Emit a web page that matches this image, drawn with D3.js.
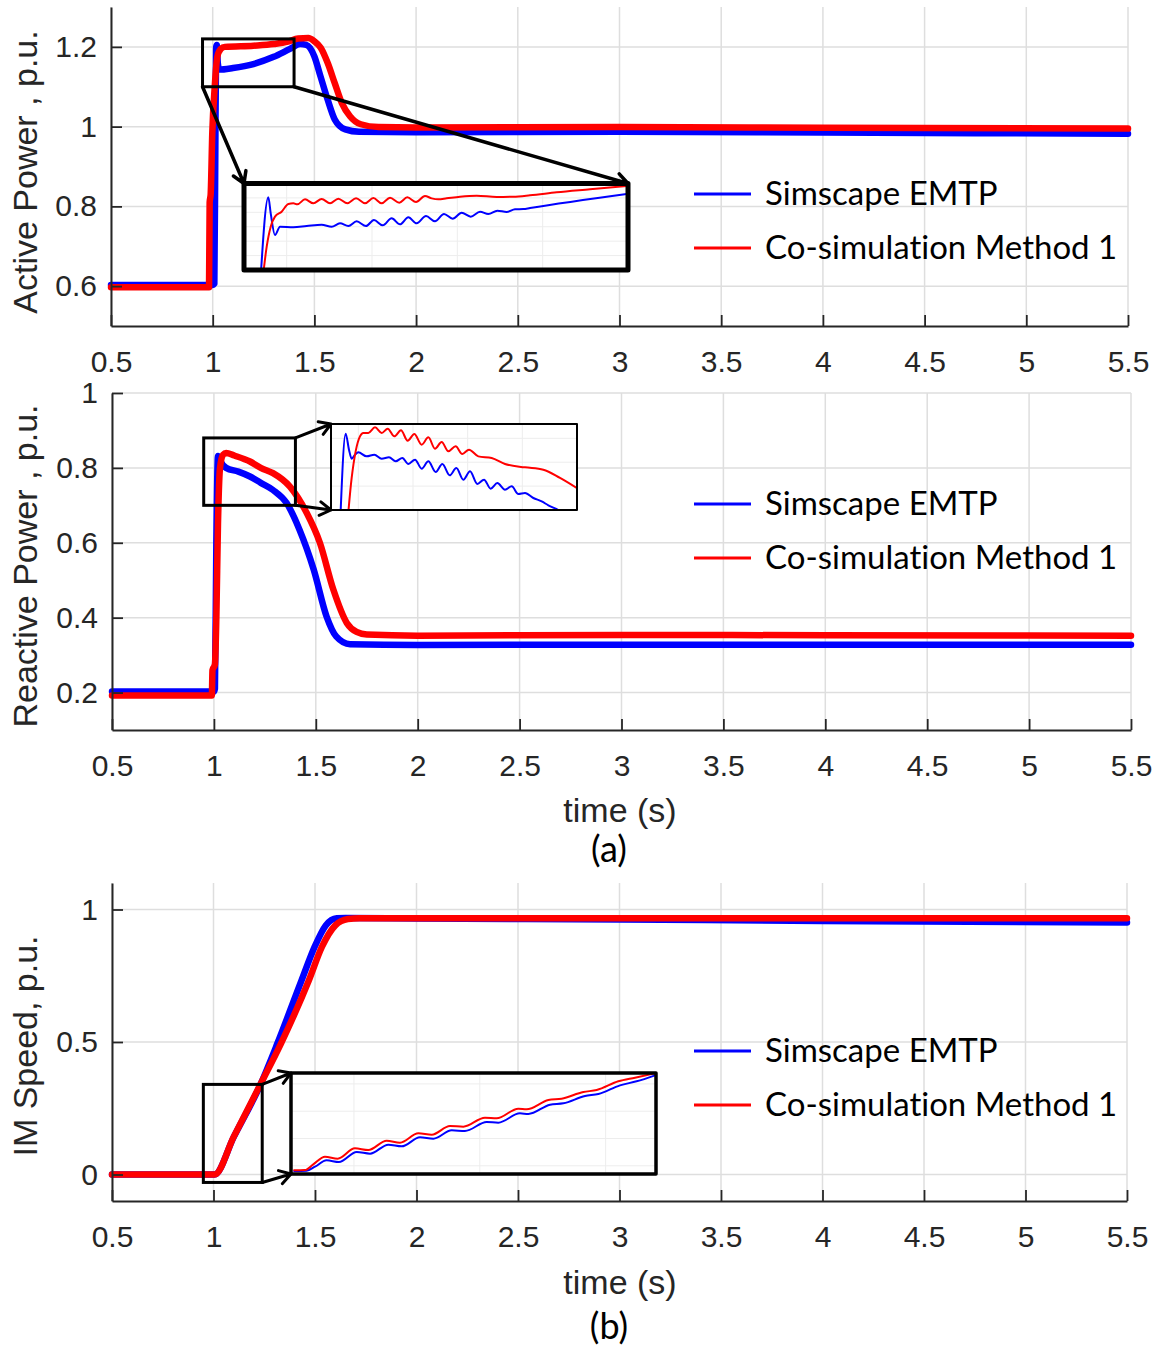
<!DOCTYPE html>
<html>
<head>
<meta charset="utf-8">
<script src="https://cdn.jsdelivr.net/npm/d3@7"></script>
<style>
  body { margin: 0; background: #fff; }
  svg text { font-family: "Liberation Sans", Arial, sans-serif; }
  svg text.calib { font-family: Lato, "Open Sans", sans-serif; font-variant-ligatures: none; }
</style>
</head>
<body>
<svg id="fig" width="1163" height="1348"></svg>
<script>
// ---------------- data ----------------
const timeTicks = [0.5, 1, 1.5, 2, 2.5, 3, 3.5, 4, 4.5, 5, 5.5];
const activeTicks = [0.6, 0.8, 1, 1.2];
const reactiveTicks = [0.2, 0.4, 0.6, 0.8, 1];
const speedTicks = [0, 0.5, 1];

const seriesNames = ["Simscape EMTP", "Co-simulation Method 1"];
const seriesColors = ["#0000ff", "#ff0000"];

// active power [time s, p.u.]
const activeEmtp = [
  [0.5, 0.603], [1.0, 0.603], [1.008, 0.606], [1.013, 0.95], [1.017, 1.2], [1.02, 1.205],
  [1.025, 1.16], [1.032, 1.143], [1.1, 1.147], [1.2, 1.157], [1.3, 1.175], [1.38, 1.195],
  [1.43, 1.207], [1.46, 1.205], [1.5, 1.176], [1.53, 1.126], [1.565, 1.068], [1.6, 1.018],
  [1.652, 0.993], [1.72, 0.987], [2.0, 0.986], [3.0, 0.987], [4.0, 0.985], [5.5, 0.982]
];
const activeCosim = [
  [0.5, 0.597], [0.982, 0.597], [0.985, 0.81], [0.99, 0.83], [0.998, 0.985], [1.01, 1.1],
  [1.023, 1.176], [1.04, 1.195], [1.06, 1.2], [1.2, 1.203], [1.3, 1.207], [1.37, 1.213],
  [1.42, 1.221], [1.47, 1.222], [1.5, 1.214], [1.531, 1.198], [1.566, 1.159], [1.6, 1.109],
  [1.635, 1.059], [1.675, 1.026], [1.728, 1.006], [1.815, 0.999], [2.0, 0.998],
  [3.0, 0.999], [4.0, 0.997], [5.5, 0.995]
];

// reactive power [time s, p.u.]
const reactiveEmtp = [
  [0.5, 0.203], [1.0, 0.203], [1.005, 0.21], [1.012, 0.6], [1.02, 0.832], [1.03, 0.82],
  [1.06, 0.80], [1.12, 0.79], [1.177, 0.777], [1.23, 0.76], [1.29, 0.741], [1.357, 0.706],
  [1.42, 0.635], [1.49, 0.528], [1.553, 0.403], [1.6, 0.35], [1.668, 0.329], [2.0, 0.327],
  [3.0, 0.328], [4.0, 0.328], [5.5, 0.328]
];
const reactiveCosim = [
  [0.5, 0.192], [0.99, 0.192], [0.993, 0.26], [1.005, 0.275], [1.012, 0.4], [1.02, 0.65],
  [1.03, 0.8], [1.045, 0.835], [1.06, 0.84], [1.1, 0.833], [1.177, 0.817], [1.23, 0.80],
  [1.29, 0.786], [1.373, 0.75], [1.455, 0.68], [1.52, 0.60], [1.586, 0.475], [1.652, 0.386],
  [1.7, 0.362], [1.75, 0.355], [2.0, 0.352], [3.0, 0.354], [4.0, 0.353], [5.5, 0.352]
];

// induction machine speed [time s, p.u.]
const speedEmtp = [
  [0.5, 0], [1.005, 0], [1.1, 0.142], [1.234, 0.344], [1.316, 0.497], [1.434, 0.733],
  [1.498, 0.859], [1.553, 0.94], [1.607, 0.967], [1.65, 0.968], [2.0, 0.966], [3.0, 0.962],
  [4.0, 0.957], [5.5, 0.951]
];
const speedCosim = [
  [0.5, 0], [1.005, 0], [1.1, 0.143], [1.234, 0.344], [1.334, 0.497], [1.47, 0.733],
  [1.534, 0.859], [1.6, 0.94], [1.662, 0.964], [1.72, 0.967], [2.0, 0.967], [3.0, 0.967],
  [4.0, 0.967], [5.5, 0.967]
];

// zoomed windows
const activeZoomT = [0.95, 1.40];
const activeZoomV = [1.10, 1.22];
const activeZoomEmtp = [
  [0.969, 1.08], [0.9785, 1.2008], [0.9813, 1.1786], [0.9863, 1.1486], [0.9922, 1.1601],
  [1.0078, 1.1592], [1.0234, 1.161], [1.041, 1.1629], [1.0527, 1.1601], [1.0625, 1.1647],
  [1.0723, 1.161], [1.082, 1.1675], [1.093, 1.161], [1.1023, 1.1694], [1.1125, 1.162],
  [1.123, 1.1717], [1.1328, 1.1634], [1.1426, 1.1731], [1.1523, 1.1647], [1.1633, 1.1749],
  [1.1738, 1.1675], [1.1844, 1.1777], [1.1945, 1.1712], [1.2051, 1.1795], [1.2156, 1.174],
  [1.2266, 1.1809], [1.2363, 1.1777], [1.2469, 1.1823], [1.2578, 1.1805], [1.2676, 1.1842],
  [1.2773, 1.1845], [1.2852, 1.186], [1.3984, 1.2054]
];
const activeZoomCosim = [
  [0.9712, 1.08], [0.9766, 1.1324], [0.9813, 1.1601], [0.9863, 1.174], [0.9941, 1.1809],
  [1.002, 1.1916], [1.0078, 1.1925], [1.0125, 1.1911], [1.0215, 1.198], [1.0313, 1.1925],
  [1.041, 1.1985], [1.0508, 1.1925], [1.0605, 1.199], [1.0711, 1.1925], [1.0813, 1.1994],
  [1.0918, 1.1925], [1.1016, 1.1999], [1.1113, 1.1925], [1.1211, 1.2003], [1.132, 1.1934],
  [1.1414, 1.2008], [1.1516, 1.1943], [1.1621, 1.2027], [1.1699, 1.1994], [1.1777, 1.198],
  [1.1875, 1.1994], [1.2031, 1.2017], [1.2227, 1.2031], [1.2461, 1.2013], [1.2656, 1.2017],
  [1.2852, 1.2036], [1.3164, 1.2077], [1.3555, 1.2119], [1.3984, 1.2165]
];

const reactiveZoomT = [0.95, 1.40];
const reactiveZoomV = [0.70, 0.88];
const reactiveZoomEmtp = [
  [0.967, 0.68], [0.9768, 0.8598], [0.9829, 0.8263], [0.9878, 0.8074], [0.9939, 0.8158],
  [1.0, 0.8207], [1.0152, 0.8123], [1.0293, 0.8158], [1.0427, 0.8074], [1.0561, 0.8102],
  [1.0683, 0.8019], [1.0805, 0.8088], [1.0915, 0.7963], [1.1037, 0.8053], [1.1159, 0.7865],
  [1.1281, 0.8019], [1.1415, 0.7795], [1.1537, 0.7963], [1.1671, 0.7726], [1.1793, 0.7879],
  [1.1921, 0.7635], [1.2043, 0.7809], [1.2177, 0.7544], [1.2299, 0.7635], [1.2421, 0.7447],
  [1.2543, 0.7565], [1.2683, 0.7426], [1.2805, 0.7495], [1.2927, 0.7335], [1.3049, 0.7356],
  [1.3201, 0.7251], [1.3354, 0.7181], [1.3476, 0.7098], [1.3659, 0.70], [1.38, 0.69]
];
const reactiveZoomCosim = [
  [0.9805, 0.68], [0.9878, 0.767], [0.9951, 0.8228], [1.003, 0.8542], [1.0091, 0.8612],
  [1.0183, 0.8612], [1.0305, 0.873], [1.0427, 0.8612], [1.0537, 0.8703], [1.0659, 0.8542],
  [1.078, 0.8668], [1.0902, 0.8451], [1.1024, 0.8591], [1.1159, 0.8368], [1.1281, 0.8521],
  [1.1402, 0.8284], [1.1524, 0.8423], [1.1646, 0.8228], [1.178, 0.8333], [1.1902, 0.8172],
  [1.2024, 0.8263], [1.2195, 0.8123], [1.2439, 0.8088], [1.2683, 0.7963], [1.3049, 0.7893],
  [1.3384, 0.7844], [1.3689, 0.767], [1.3994, 0.746]
];

const speedZoomT = [0.95, 1.24];
const speedZoomV = [-0.03, 0.34];
const speedZoomEmtp = [
  [0.9519, -0.019], [0.9624, -0.0178], [0.9691, -0.0031], [0.9783, 0.0201], [0.9881, 0.014],
  [1.0022, 0.0506], [1.0128, 0.0445], [1.0273, 0.0775], [1.0379, 0.0714], [1.0525, 0.1043],
  [1.0631, 0.0994], [1.0777, 0.13], [1.0882, 0.1275], [1.1055, 0.1605], [1.1147, 0.1581],
  [1.1319, 0.1922], [1.1386, 0.1898], [1.1558, 0.224], [1.1664, 0.2289], [1.1836, 0.2557],
  [1.1942, 0.2631], [1.2114, 0.2948], [1.2246, 0.3095], [1.2392, 0.3315]
];
const speedZoomCosim = [
  [0.9519, -0.0166], [0.9611, -0.0153], [0.9677, 0.0054], [0.977, 0.0335], [0.9871, 0.0262],
  [1.0008, 0.064], [1.0114, 0.0579], [1.026, 0.0921], [1.0366, 0.0848], [1.0512, 0.119],
  [1.0618, 0.1141], [1.0763, 0.1458], [1.0869, 0.1434], [1.1041, 0.1764], [1.1134, 0.1739],
  [1.1306, 0.2093], [1.1372, 0.2069], [1.1545, 0.2411], [1.165, 0.246], [1.1823, 0.2704],
  [1.1929, 0.2777], [1.2101, 0.3095], [1.2233, 0.3229], [1.2392, 0.3388]
];

// ---------------- layout ----------------
const panels = [
  {
    left: 111, right: 1128, top: 7, bottom: 326,
    yDomain: [0.5, 1.3], yTicks: activeTicks,
    series: [activeEmtp, activeCosim],
    yLabel: "Active Power , p.u.", yLabelY: 172,
    legendY: 194,
    inset: {
      box: [244, 183.5, 628, 270], boxWidth: 5, srcWidth: 3, arrowWidth: 3.5,
      t: activeZoomT, v: activeZoomV, series: [activeZoomEmtp, activeZoomCosim],
      arrows: [["bl", "tl"], ["br", "tr"]]
    }
  },
  {
    left: 112, right: 1131, top: 393, bottom: 730,
    yDomain: [0.1, 1.0], yTicks: reactiveTicks,
    series: [reactiveEmtp, reactiveCosim],
    yLabel: "Reactive Power , p.u.", yLabelY: 566,
    legendY: 504,
    xLabel: "time (s)", xLabelY: 822, caption: "(a)", captionY: 862,
    inset: {
      box: [331, 424, 577, 510], boxWidth: 2, srcWidth: 3, arrowWidth: 3,
      t: reactiveZoomT, v: reactiveZoomV, series: [reactiveZoomEmtp, reactiveZoomCosim],
      arrows: [["tr", "tl"], ["br", "bl"]]
    }
  },
  {
    left: 112, right: 1127, top: 883, bottom: 1201,
    yDomain: [-0.1, 1.1], yTicks: speedTicks,
    series: [speedEmtp, speedCosim],
    yLabel: "IM Speed, p.u.", yLabelY: 1046,
    legendY: 1051,
    xLabel: "time (s)", xLabelY: 1294, caption: "(b)", captionY: 1339,
    inset: {
      box: [291, 1073, 656, 1174], boxWidth: 3.5, srcWidth: 3, arrowWidth: 3,
      t: speedZoomT, v: speedZoomV, series: [speedZoomEmtp, speedZoomCosim],
      arrows: [["tr", "tl"], ["br", "bl"]]
    }
  }
];

const svg = d3.select("#fig");
const axisColor = "#262626";
const gridColor = "#dedede";
const fmt = d3.format("~g");

function corner(r, c) {
  return [c[1] === "l" ? r[0] : r[2], c[0] === "t" ? r[1] : r[3]];
}

function arrow(g, from, to, w) {
  const a = Math.atan2(to[1] - from[1], to[0] - from[0]);
  const L = 13, s = 0.55;
  const h1 = [to[0] - L * Math.cos(a - s), to[1] - L * Math.sin(a - s)];
  const h2 = [to[0] - L * Math.cos(a + s), to[1] - L * Math.sin(a + s)];
  g.append("path")
    .attr("d", `M${from}L${to}M${h1}L${to}L${h2}`)
    .attr("fill", "none").attr("stroke", "#000").attr("stroke-width", w)
    .attr("stroke-linecap", "round").attr("stroke-linejoin", "round");
}

panels.forEach((p, pi) => {
  const x = d3.scaleLinear().domain([0.5, 5.5]).range([p.left, p.right]);
  const y = d3.scaleLinear().domain(p.yDomain).range([p.bottom, p.top]);
  const g = svg.append("g");

  // grid
  g.append("g").selectAll("line").data(timeTicks).join("line")
    .attr("x1", d => x(d)).attr("x2", d => x(d))
    .attr("y1", p.top).attr("y2", p.bottom)
    .attr("stroke", gridColor).attr("stroke-width", 1.5);
  g.append("g").selectAll("line").data(p.yTicks).join("line")
    .attr("x1", p.left).attr("x2", p.right)
    .attr("y1", d => y(d)).attr("y2", d => y(d))
    .attr("stroke", gridColor).attr("stroke-width", 1.5);

  // legend
  const lg = g.append("g");
  seriesNames.forEach((name, i) => {
    const yy = p.legendY + i * 54;
    lg.append("line").attr("x1", 694).attr("x2", 751).attr("y1", yy).attr("y2", yy)
      .attr("stroke", seriesColors[i]).attr("stroke-width", 3);
    lg.append("text").attr("class", "calib").attr("x", 765).attr("y", yy + 11)
      .attr("font-size", 33).attr("fill", "#000").text(name);
  });

  // traces
  const line = d3.line().x(d => x(d[0])).y(d => y(d[1])).curve(d3.curveMonotoneX);
  p.series.forEach((s, i) => {
    g.append("path").datum(s).attr("d", line)
      .attr("fill", "none").attr("stroke", seriesColors[i]).attr("stroke-width", 6.5)
      .attr("stroke-linejoin", "round").attr("stroke-linecap", "round");
  });

  // axes
  const ax = g.append("g").attr("transform", `translate(0,${p.bottom})`)
    .call(d3.axisBottom(x).tickValues(timeTicks).tickFormat(fmt).tickSize(-11).tickSizeOuter(0).tickPadding(25));
  const ay = g.append("g").attr("transform", `translate(${p.left},0)`)
    .call(d3.axisLeft(y).tickValues(p.yTicks).tickFormat(fmt).tickSize(-11).tickSizeOuter(0).tickPadding(14));
  [ax, ay].forEach(a => {
    a.attr("font-family", null);
    a.select(".domain").attr("stroke", axisColor).attr("stroke-width", 2);
    a.selectAll(".tick line").attr("stroke", axisColor).attr("stroke-width", 1.8);
    a.selectAll(".tick text").attr("fill", axisColor).attr("font-size", 30);
  });

  // axis titles
  g.append("text").attr("transform", `translate(37,${p.yLabelY}) rotate(-90)`)
    .attr("text-anchor", "middle").attr("font-size", 34).attr("fill", axisColor).text(p.yLabel);
  if (p.xLabel) {
    g.append("text").attr("x", 620).attr("y", p.xLabelY).attr("text-anchor", "middle")
      .attr("font-size", 34).attr("fill", axisColor).text(p.xLabel);
    g.append("text").attr("class", "calib").attr("x", 609).attr("y", p.captionY)
      .attr("text-anchor", "middle").attr("font-size", 36).attr("fill", "#000").text(p.caption);
  }

  // zoom window and magnified view
  const z = p.inset;
  const src = [x(z.t[0]), y(z.v[1]), x(z.t[1]), y(z.v[0])];
  const ig = g.append("g");
  ig.append("rect").attr("x", src[0]).attr("y", src[1])
    .attr("width", src[2] - src[0]).attr("height", src[3] - src[1])
    .attr("fill", "none").attr("stroke", "#000").attr("stroke-width", z.srcWidth);
  z.arrows.forEach(([a, b]) => arrow(ig, corner(src, a), corner(z.box, b), z.arrowWidth));

  const zx = d3.scaleLinear().domain(z.t).range([z.box[0], z.box[2]]);
  const zy = d3.scaleLinear().domain(z.v).range([z.box[3], z.box[1]]);
  const clipId = "zoomclip" + pi;
  ig.append("clipPath").attr("id", clipId).append("rect")
    .attr("x", z.box[0]).attr("y", z.box[1])
    .attr("width", z.box[2] - z.box[0]).attr("height", z.box[3] - z.box[1]);
  ig.append("rect").attr("x", z.box[0]).attr("y", z.box[1])
    .attr("width", z.box[2] - z.box[0]).attr("height", z.box[3] - z.box[1]).attr("fill", "#fff");
  const inner = ig.append("g").attr("clip-path", `url(#${clipId})`);
  inner.append("g").selectAll("line").data(zx.ticks(4)).join("line")
    .attr("x1", d => zx(d)).attr("x2", d => zx(d)).attr("y1", z.box[1]).attr("y2", z.box[3])
    .attr("stroke", "#ededed").attr("stroke-width", 1);
  inner.append("g").selectAll("line").data(zy.ticks(4)).join("line")
    .attr("x1", z.box[0]).attr("x2", z.box[2]).attr("y1", d => zy(d)).attr("y2", d => zy(d))
    .attr("stroke", "#ededed").attr("stroke-width", 1);
  const zline = d3.line().x(d => zx(d[0])).y(d => zy(d[1])).curve(d3.curveMonotoneX);
  z.series.forEach((s, i) => {
    inner.append("path").datum(s).attr("d", zline)
      .attr("fill", "none").attr("stroke", seriesColors[i]).attr("stroke-width", 2)
      .attr("stroke-linejoin", "round");
  });
  ig.append("rect").attr("x", z.box[0]).attr("y", z.box[1])
    .attr("width", z.box[2] - z.box[0]).attr("height", z.box[3] - z.box[1])
    .attr("fill", "none").attr("stroke", "#000").attr("stroke-width", z.boxWidth)
    .attr("stroke-linejoin", "round");
});
</script>
</body>
</html>
